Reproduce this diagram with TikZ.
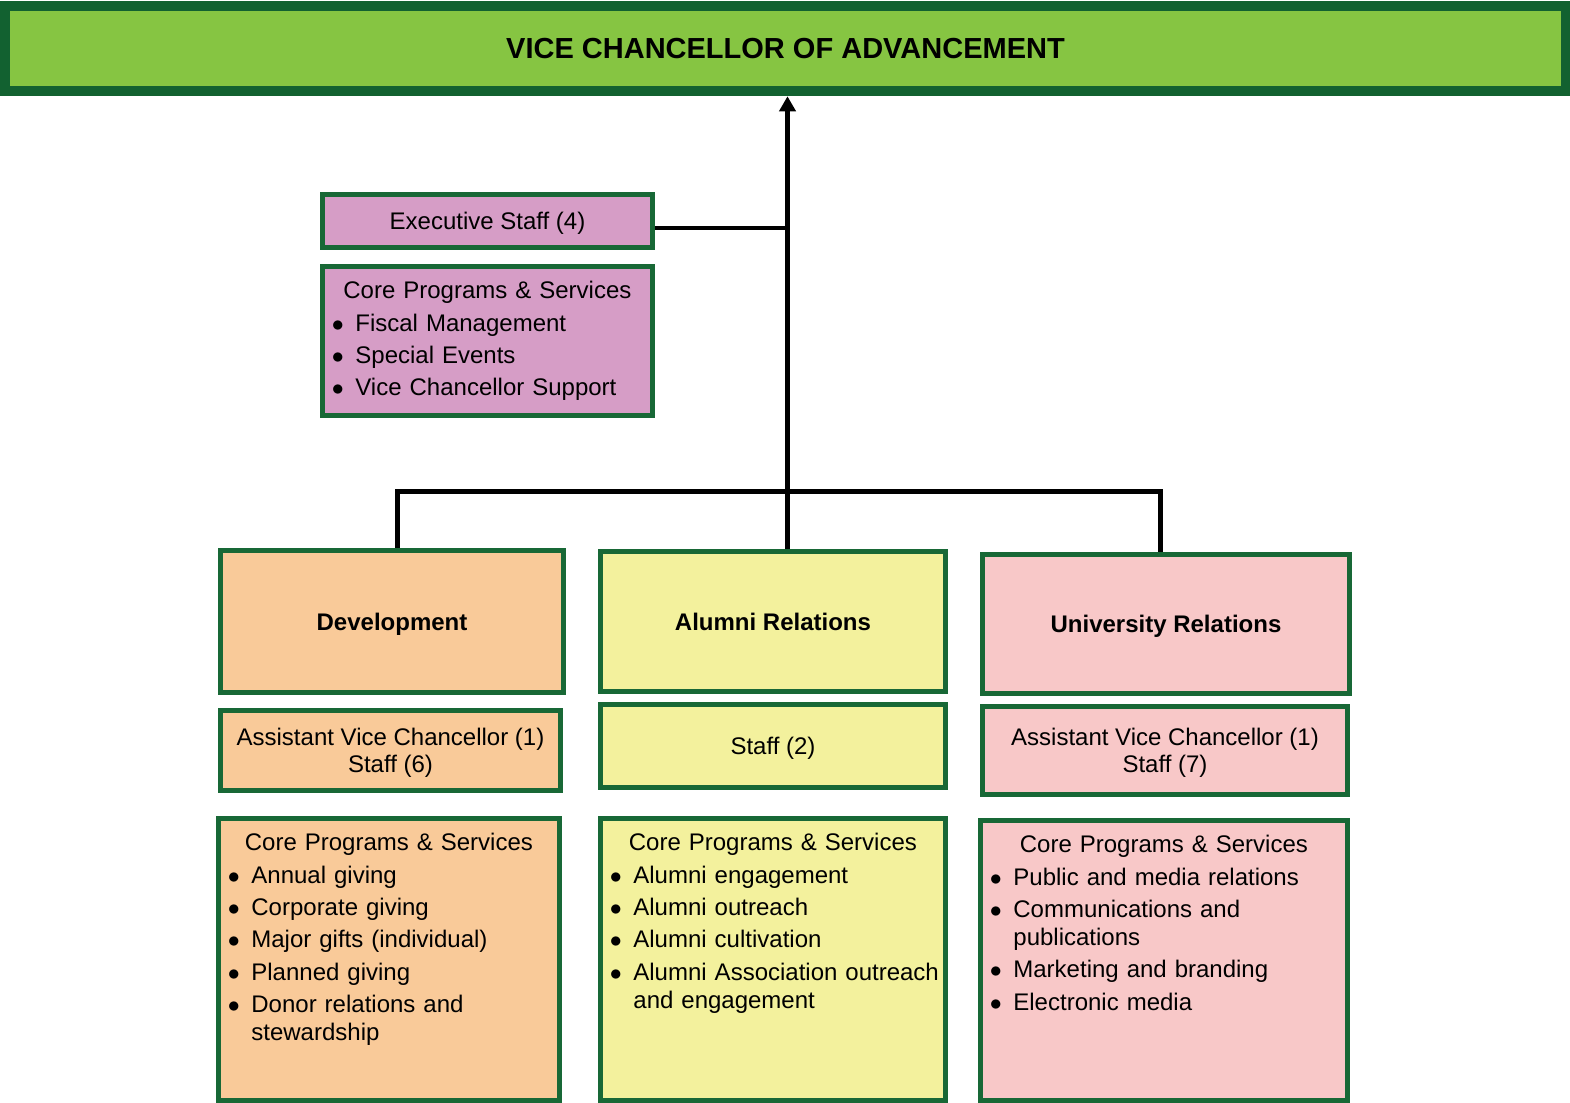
\documentclass[tikz,border=0pt]{standalone}
\usepackage{fontspec}
\setmainfont{Liberation Sans}
\usepackage{enumitem}
\usetikzlibrary{arrows.meta}
\setlist[itemize]{label=$\bullet$, leftmargin=13.5pt, labelsep=5.8pt, itemsep=2.2pt, parsep=0pt, topsep=2.2pt, partopsep=0pt}
\definecolor{darkgrn}{RGB}{18,97,48}
\definecolor{boxgrn}{RGB}{24,104,54}
\definecolor{titlegrn}{RGB}{134,197,66}
\definecolor{execpink}{RGB}{214,157,198}
\definecolor{devorange}{RGB}{249,202,153}
\definecolor{alumyellow}{RGB}{243,241,157}
\definecolor{unipink}{RGB}{248,200,200}
\begin{document}
\begin{tikzpicture}[x=0.5pt,y=-0.5pt]
      \tikzstyle{box}=[rectangle,draw=boxgrn,line width=2.5pt,inner sep=0pt,text depth=0pt,align=center,font=\fontsize{12}{13.5}\selectfont]
      \tikzstyle{head}=[box,font=\bfseries\fontsize{12}{14}\selectfont]
      \tikzstyle{listtext}=[anchor=north west,inner sep=0pt,align=left,font=\fontsize{12}{14}\selectfont]
      \tikzstyle{wire}=[line width=2.4pt]
      \useasboundingbox (0,0) rectangle (1570,1103);

      \node[rectangle,draw=darkgrn,fill=titlegrn,line width=5pt,minimum width=780.5pt,minimum height=42.75pt,font=\bfseries\fontsize{14.5}{17}\selectfont] (vca) at (785.5,48.5) {VICE CHANCELLOR OF ADVANCEMENT};

      \node[box,fill=execpink,minimum width=165pt,minimum height=26.5pt] (exec) at (487.5,221) {Executive Staff (4)};
      \node[box,fill=execpink,minimum width=165pt,minimum height=74.5pt] (excore) at (487.5,341) {};
      \node[listtext,text width=159pt] (extext) at ([xshift=4pt,yshift=-8.5pt]excore.north west) {%
        {\centering Core Programs \& Services\par}
        \begin{itemize}
          \item Fiscal Management
          \item Special Events
          \item Vice Chancellor Support
        \end{itemize}};

      \node[head,fill=devorange,minimum width=171.5pt,minimum height=71pt] (dev) at (392,621.5) {Development};
      \node[head,fill=alumyellow,minimum width=172.5pt,minimum height=70pt] (alum) at (773,621.5) {Alumni Relations};
      \node[head,fill=unipink,minimum width=183.5pt,minimum height=69.5pt] (univ) at (1166,624) {University Relations};

      \node[box,fill=devorange,minimum width=170pt,minimum height=40pt] (devstaff) at (390.5,750.5) {Assistant Vice Chancellor (1)\\Staff (6)};
      \node[box,fill=alumyellow,minimum width=172.5pt,minimum height=41.5pt] (alumstaff) at (773,746) {Staff (2)};
      \node[box,fill=unipink,minimum width=182.5pt,minimum height=44pt] (univstaff) at (1165,750.5) {Assistant Vice Chancellor (1)\\Staff (7)};

      \node[box,fill=devorange,minimum width=170.5pt,minimum height=141pt] (devcore) at (389,959.5) {};
      \node[box,fill=alumyellow,minimum width=172.5pt,minimum height=141pt] (alumcore) at (773,959.5) {};
      \node[box,fill=unipink,minimum width=183.5pt,minimum height=140pt] (univcore) at (1164,960.5) {};

      \node[listtext,text width=164.5pt] (devtext) at ([xshift=4pt,yshift=-8.5pt]devcore.north west) {%
        {\centering Core Programs \& Services\par}
        \begin{itemize}
          \item Annual giving
          \item Corporate giving
          \item Major gifts (individual)
          \item Planned giving
          \item Donor relations and\newline stewardship
        \end{itemize}};
      \node[listtext,text width=166.5pt] (alumtext) at ([xshift=4pt,yshift=-8.5pt]alumcore.north west) {%
        {\centering Core Programs \& Services\par}
        \begin{itemize}
          \item Alumni engagement
          \item Alumni outreach
          \item Alumni cultivation
          \item Alumni Association outreach\newline and engagement
        \end{itemize}};
      \node[listtext,text width=177.5pt] (univtext) at ([xshift=4pt,yshift=-8.5pt]univcore.north west) {%
        {\centering Core Programs \& Services\par}
        \begin{itemize}
          \item Public and media relations
          \item Communications and\newline publications
          \item Marketing and branding
          \item Electronic media
        \end{itemize}};

      \coordinate (bus) at (787.5,491.5);
      \coordinate (busL) at (397.5,491.5);
      \coordinate (busR) at (1160.5,491.5);
      \coordinate (exj) at (787.5,228);

      \draw[wire,-{Triangle[length=7.5pt,width=8pt]}] (alum.north -| bus) -- (vca.south -| bus);
      \draw[wire] (exec.east |- exj) -- (exj);
      \draw[wire] (dev.north -| busL) -- (busL) -- (busR) -- (univ.north -| busR);
\end{tikzpicture}
\end{document}
